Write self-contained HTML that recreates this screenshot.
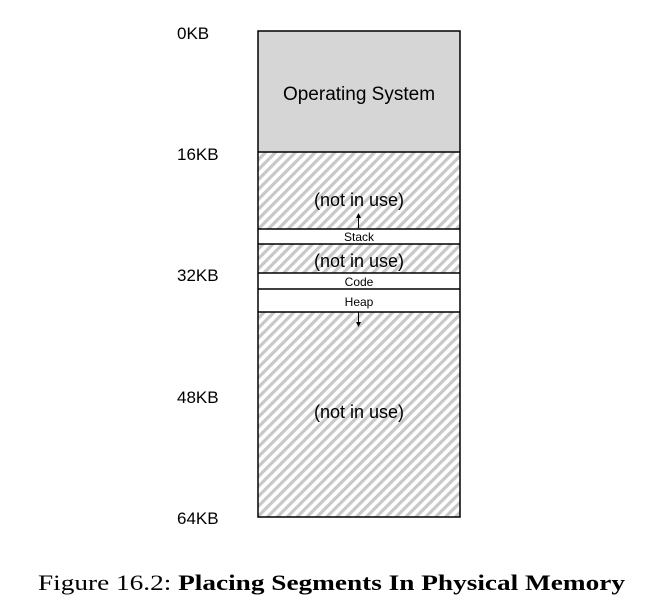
<!DOCTYPE html>
<html><head><meta charset="utf-8"><style>
html,body{margin:0;padding:0;background:#fff;}
svg{display:block;}
</style></head><body>
<svg width="668" height="608" viewBox="0 0 668 608" xmlns="http://www.w3.org/2000/svg">
<defs>
<pattern id="h" patternUnits="userSpaceOnUse" width="7" height="7" patternTransform="rotate(-45)">
<rect width="7" height="7" fill="#fff"/>
<rect width="7" height="3.2" fill="#c8c8c8"/>
</pattern>
</defs>
<rect x="258" y="31" width="202" height="121" fill="#d6d6d6"/>
<rect x="258" y="152" width="202" height="77" fill="url(#h)"/>
<rect x="258" y="244" width="202" height="29" fill="url(#h)"/>
<rect x="258" y="312" width="202" height="205" fill="url(#h)"/>
<g stroke="#000" stroke-width="1.5" fill="none">
<rect x="258" y="31" width="202" height="486"/>
<line x1="258" y1="152" x2="460" y2="152"/>
<line x1="258" y1="229" x2="460" y2="229"/>
<line x1="258" y1="244" x2="460" y2="244"/>
<line x1="258" y1="273" x2="460" y2="273"/>
<line x1="258" y1="289" x2="460" y2="289"/>
<line x1="258" y1="312" x2="460" y2="312"/>
<line x1="358.5" y1="228" x2="358.5" y2="217" stroke-width="1"/>
<line x1="358.5" y1="312" x2="358.5" y2="323" stroke-width="1"/>
</g>
<polygon points="356,218 361,218 358.5,213" fill="#000"/>
<polygon points="356,322 361,322 358.5,327" fill="#000"/>
<g font-family="Liberation Sans, sans-serif" fill="#000">
<text x="177" y="39" font-size="17">0KB</text>
<text x="177" y="160" font-size="17">16KB</text>
<text x="177" y="281" font-size="17">32KB</text>
<text x="177" y="403" font-size="17">48KB</text>
<text x="177" y="524" font-size="17">64KB</text>
<text x="359" y="100" font-size="19" text-anchor="middle">Operating System</text>
<text x="359" y="206" font-size="18" text-anchor="middle">(not in use)</text>
<text x="359" y="267" font-size="18" text-anchor="middle">(not in use)</text>
<text x="359" y="418" font-size="18" text-anchor="middle">(not in use)</text>
<text x="359" y="241" font-size="12" text-anchor="middle">Stack</text>
<text x="359" y="286" font-size="12" text-anchor="middle">Code</text>
<text x="359" y="306" font-size="12" text-anchor="middle">Heap</text>
</g>
<text x="38" y="590" font-family="Liberation Serif, serif" font-size="22" fill="#000" textLength="587" lengthAdjust="spacingAndGlyphs">Figure 16.2: <tspan font-weight="bold">Placing Segments In Physical Memory</tspan></text>
</svg>
</body></html>
